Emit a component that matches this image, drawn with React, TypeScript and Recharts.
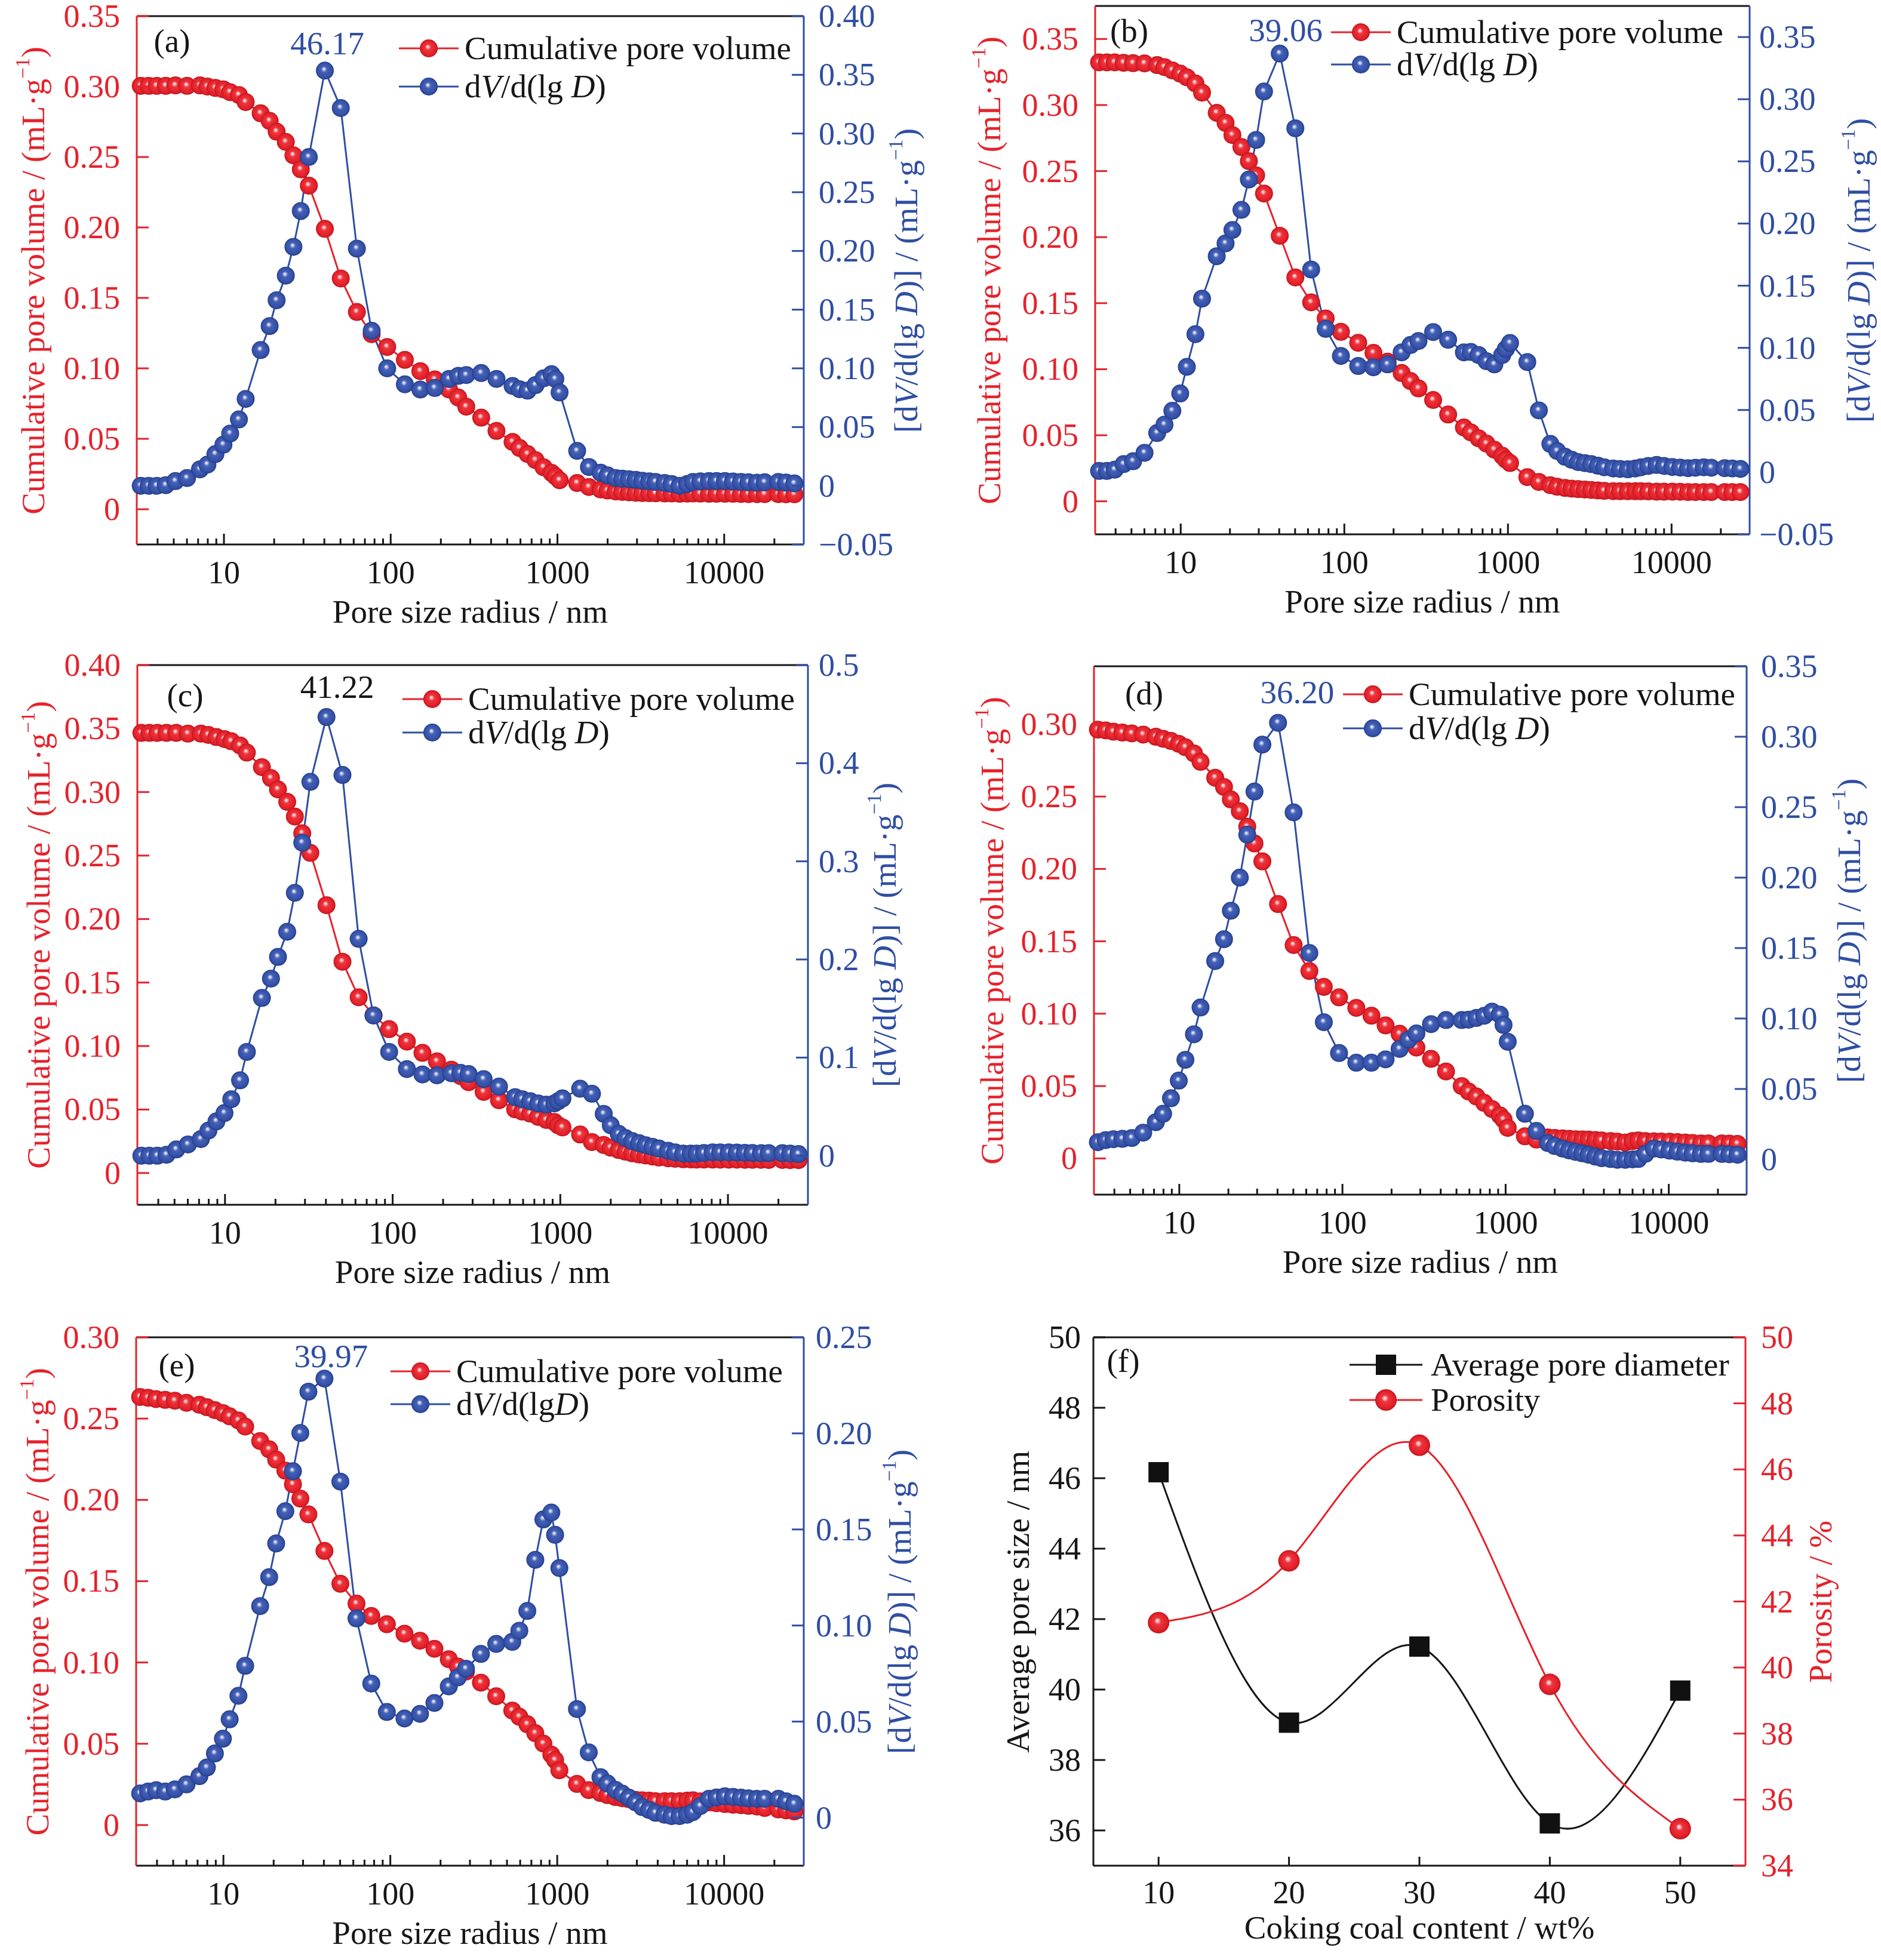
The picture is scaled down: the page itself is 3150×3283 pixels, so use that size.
import React from "react";
import { ComposedChart, Line, XAxis, YAxis, ReferenceLine, ReferenceDot, Legend } from "recharts";

const FONT = "'Liberation Serif', 'Times New Roman', serif";
const RED = "#e5222b";
const BLUE = "#2f4ea3";
const INK = "#161616";

// pore radius (nm), shared by panels (a)-(e)
const radius = [3.17, 3.54, 3.95, 4.48, 5.12, 6.01, 7.18, 7.96, 8.89, 9.93, 10.9, 12.3, 13.5, 16.6, 18.8, 20.7, 23.5, 26.1, 28.9, 32.3, 40.3, 50.2, 62.7, 76.9, 95.3, 121.6, 150.6, 183.8, 224, 254, 284, 349, 431, 538, 593, 662, 739, 826, 922, 971, 1030, 1313, 1545,
  1816, 2000, 2233, 2450, 2686, 2950, 3228, 3550, 3880, 4400, 4842, 5410, 6000, 6503, 7200, 8110, 9000, 10110, 11300, 12620, 14000, 15740, 17500, 21130, 23500, 26360];

const cumA = [0.3005, 0.3005, 0.3005, 0.3005, 0.3008, 0.3005, 0.3008, 0.3, 0.299, 0.298, 0.296, 0.294, 0.289, 0.281, 0.2756, 0.268, 0.2607, 0.2512, 0.2412, 0.2297, 0.199, 0.1638, 0.14, 0.1243, 0.1152, 0.106, 0.098, 0.0922, 0.085, 0.0793, 0.0728, 0.065, 0.0556, 0.0478, 0.0435, 0.0392, 0.0349, 0.0298, 0.0258, 0.0235, 0.0206, 0.0186, 0.0158,
  0.014, 0.0133, 0.0126, 0.0123, 0.012, 0.0117, 0.0115, 0.0114, 0.0113, 0.0112, 0.0112, 0.011, 0.0111, 0.0112, 0.0111, 0.011, 0.011, 0.011, 0.011, 0.0108, 0.0107, 0.0107, 0.0107, 0.0107, 0.0106, 0.0106];
const dvA = [0, 0, 0, 0.0005, 0.004, 0.0066, 0.014, 0.018, 0.027, 0.035, 0.0445, 0.0565, 0.074, 0.1156, 0.136, 0.158, 0.179, 0.2035, 0.234, 0.28, 0.3536, 0.3217, 0.202, 0.132, 0.1, 0.0864, 0.082, 0.0833, 0.091, 0.0936, 0.0943, 0.096, 0.091, 0.085, 0.0822, 0.081, 0.0857, 0.0915, 0.095, 0.091, 0.0795, 0.0297, 0.016,
  0.0111, 0.0088, 0.0066, 0.006, 0.0056, 0.005, 0.0043, 0.0038, 0.0033, 0.0024, 0.0015, 0, 0.0015, 0.0033, 0.0038, 0.004, 0.004, 0.004, 0.0036, 0.0033, 0.003, 0.0026, 0.003, 0.0033, 0.0028, 0.002];

const cumB = [0.3323, 0.3323, 0.3323, 0.332, 0.3317, 0.3315, 0.3302, 0.3287, 0.3262, 0.3238, 0.321, 0.3164, 0.3094, 0.2941, 0.2865, 0.2773, 0.2682, 0.2575, 0.2468, 0.233, 0.201, 0.1695, 0.1506, 0.1384, 0.1283, 0.12, 0.1124, 0.1057, 0.0971, 0.091, 0.0855, 0.0767, 0.0657, 0.0559, 0.0522, 0.0477, 0.0437, 0.0391, 0.0345, 0.0315, 0.029, 0.0183, 0.0147,
  0.0122, 0.011, 0.0101, 0.0096, 0.0092, 0.0089, 0.0086, 0.0082, 0.0079, 0.0077, 0.0076, 0.0076, 0.0076, 0.0076, 0.0075, 0.0073, 0.0073, 0.0073, 0.0072, 0.007, 0.007, 0.007, 0.007, 0.007, 0.007, 0.007];
const dvB = [0.001, 0.001, 0.002, 0.0065, 0.0088, 0.0156, 0.0315, 0.0383, 0.0494, 0.0633, 0.0847, 0.111, 0.1396, 0.1737, 0.184, 0.1948, 0.211, 0.2354, 0.2672, 0.3062, 0.3367, 0.2766, 0.163, 0.1153, 0.0935, 0.0854, 0.0844, 0.0867, 0.0964, 0.1023, 0.1055, 0.1127, 0.1065, 0.0964, 0.0967, 0.0942, 0.0893, 0.0867, 0.0942, 0.099, 0.1039, 0.0886, 0.0497,
  0.0227, 0.017, 0.0124, 0.01, 0.0081, 0.0073, 0.0065, 0.0052, 0.0039, 0.003, 0.0026, 0.0023, 0.003, 0.0039, 0.005, 0.0058, 0.005, 0.0042, 0.0037, 0.0032, 0.0036, 0.0039, 0.0036, 0.0032, 0.003, 0.0026];

const cumC = [0.3466, 0.3466, 0.3466, 0.3466, 0.3466, 0.346, 0.346, 0.345, 0.3433, 0.3417, 0.34, 0.3367, 0.3311, 0.3196, 0.311, 0.3021, 0.2923, 0.2807, 0.2675, 0.2521, 0.2109, 0.1664, 0.1384, 0.1242, 0.1133, 0.1035, 0.0946, 0.088, 0.0814, 0.0764, 0.0715, 0.0639, 0.0573, 0.0501, 0.0484, 0.0468, 0.0442, 0.0418, 0.0402, 0.0376, 0.0359, 0.0303, 0.0244,
  0.0221, 0.02, 0.0181, 0.0168, 0.0155, 0.0146, 0.0138, 0.013, 0.0122, 0.0116, 0.0112, 0.0108, 0.0107, 0.0106, 0.0106, 0.0106, 0.0105, 0.0105, 0.0105, 0.0104, 0.0104, 0.0104, 0.0103, 0.0103, 0.0102, 0.0102];
const dvC = [0, 0, 0, 0.001, 0.0064, 0.0115, 0.017, 0.0256, 0.035, 0.0435, 0.0576, 0.0768, 0.1058, 0.1608, 0.1805, 0.2026, 0.2282, 0.2679, 0.319, 0.381, 0.447, 0.388, 0.221, 0.1429, 0.1058, 0.0883, 0.0828, 0.0819, 0.084, 0.0845, 0.0832, 0.0781, 0.0704, 0.0597, 0.0576, 0.0555, 0.0533, 0.052, 0.0533, 0.0555, 0.0584, 0.0683, 0.0631,
  0.0427, 0.031, 0.0222, 0.018, 0.0149, 0.0128, 0.0107, 0.009, 0.0073, 0.005, 0.0034, 0.0021, 0.0021, 0.0021, 0.0028, 0.0034, 0.0034, 0.0034, 0.0032, 0.003, 0.0028, 0.0026, 0.0026, 0.0026, 0.0022, 0.0017];

const cumD = [0.2962, 0.2957, 0.2948, 0.2942, 0.2936, 0.2928, 0.2913, 0.2899, 0.2884, 0.2864, 0.2841, 0.2798, 0.274, 0.263, 0.2566, 0.248, 0.2399, 0.2292, 0.2176, 0.2052, 0.1757, 0.1474, 0.1295, 0.1185, 0.1113, 0.104, 0.0986, 0.0919, 0.0861, 0.081, 0.0766, 0.0688, 0.0601, 0.05, 0.0462, 0.0428, 0.0384, 0.0341, 0.0298, 0.0269, 0.0211, 0.0153, 0.013,
  0.0145, 0.0142, 0.0139, 0.0136, 0.0133, 0.0131, 0.013, 0.0127, 0.0124, 0.012, 0.0116, 0.011, 0.012, 0.0124, 0.012, 0.0118, 0.0117, 0.0116, 0.0113, 0.011, 0.0107, 0.0104, 0.0104, 0.0104, 0.0103, 0.0101];
const dvD = [0.0122, 0.0137, 0.0143, 0.0146, 0.0152, 0.019, 0.0264, 0.0324, 0.0434, 0.0559, 0.0707, 0.0888, 0.1078, 0.1408, 0.1563, 0.1765, 0.2, 0.2305, 0.2611, 0.2944, 0.3099, 0.2463, 0.1465, 0.0974, 0.0755, 0.0686, 0.0686, 0.071, 0.0784, 0.085, 0.0894, 0.096, 0.0989, 0.0989, 0.0992, 0.1004, 0.1019, 0.1049, 0.1028, 0.0954, 0.0835, 0.0324, 0.0202,
  0.0116, 0.0095, 0.0077, 0.0064, 0.0053, 0.0043, 0.0033, 0.002, 0.0009, 0.0003, -0.0003, -0.0003, 0, 0.0003, 0.004, 0.0077, 0.007, 0.0062, 0.0055, 0.0048, 0.0043, 0.0039, 0.0039, 0.0039, 0.0036, 0.0033];

const cumE = [0.2633, 0.2628, 0.262, 0.2615, 0.261, 0.2597, 0.2585, 0.257, 0.2552, 0.2534, 0.2514, 0.2489, 0.2451, 0.2362, 0.2311, 0.2248, 0.218, 0.2096, 0.2008, 0.1911, 0.1686, 0.1484, 0.1362, 0.1286, 0.1235, 0.1177, 0.1134, 0.1084, 0.102, 0.0975, 0.0944, 0.0876, 0.0792, 0.0704, 0.0666, 0.062, 0.0565, 0.0501, 0.0433, 0.04, 0.0337, 0.0253, 0.0215,
  0.0197, 0.0184, 0.0172, 0.0165, 0.0159, 0.0155, 0.0152, 0.015, 0.0147, 0.0147, 0.0147, 0.0147, 0.015, 0.0152, 0.0146, 0.0139, 0.0134, 0.0129, 0.0125, 0.0122, 0.0118, 0.0114, 0.0105, 0.0096, 0.009, 0.0084];
const dvE = [0.0126, 0.0136, 0.0143, 0.0136, 0.0147, 0.0173, 0.0216, 0.0261, 0.0334, 0.0411, 0.0512, 0.0634, 0.079, 0.1101, 0.1252, 0.1427, 0.1595, 0.1803, 0.2002, 0.2217, 0.2285, 0.1749, 0.1037, 0.0698, 0.055, 0.0516, 0.054, 0.0597, 0.0683, 0.073, 0.0775, 0.0852, 0.0904, 0.0915, 0.0973, 0.1076, 0.1342, 0.1552, 0.1588, 0.1472, 0.1299, 0.0565, 0.034,
  0.0211, 0.0178, 0.0145, 0.0125, 0.0104, 0.008, 0.0055, 0.004, 0.0025, 0.0015, 0.0008, 0.0008, 0.0015, 0.0029, 0.006, 0.0098, 0.0105, 0.0111, 0.0108, 0.0104, 0.01, 0.0098, 0.0098, 0.0098, 0.0085, 0.0072];

// panel (f)
const coking = [10, 20, 30, 40, 50];
const avgPore = [46.17, 39.06, 41.22, 36.2, 39.97];
const porosity = [41.36, 43.23, 46.73, 39.49, 35.12];

const logTicks = [4, 5, 6, 7, 8, 9, 10, 20, 30, 40, 50, 60, 70, 80, 90, 100, 200, 300, 400, 500, 600, 700, 800, 900, 1000, 2000, 3000, 4000, 5000, 6000, 7000, 8000, 9000, 10000, 20000];
const majorLog = [10, 100, 1000, 10000];

const fmt2 = (v: number) => (v === 0 ? "0" : (v < 0 ? "\u2212" : "") + Math.abs(v).toFixed(2));
const fmt1 = (v: number) => (v === 0 ? "0" : (v < 0 ? "\u2212" : "") + Math.abs(v).toFixed(1));
const fmt0 = (v: number) => String(v);

function LogTick(props: any) {
  const { x, y, payload } = props;
  const v = payload.value;
  const major = majorLog.indexOf(v) >= 0;
  return (
    <g>
      <line x1={x} x2={x} y1={y} y2={y - (major ? 18 : 10)} stroke={INK} strokeWidth={3} />
      {major ? (
        <text x={x} y={y + 65} textAnchor="middle" fontSize={54} fontFamily={FONT} fill={INK}>
          {v}
        </text>
      ) : null}
    </g>
  );
}

const linTick = (len: number) => (props: any) => {
  const { x, y, payload } = props;
  return (
    <g>
      <line x1={x} x2={x} y1={y} y2={y - len} stroke={INK} strokeWidth={3} />
      <text x={x} y={y + 63} textAnchor="middle" fontSize={54} fontFamily={FONT} fill={INK}>
        {payload.value}
      </text>
    </g>
  );
};

const yTick = (side: string, color: string, fmt: (v: number) => string, gap: number) => (props: any) => {
  const { x, y, payload } = props;
  const dir = side === "left" ? 1 : -1;
  return (
    <g>
      <line x1={x} x2={x + dir * 20} y1={y} y2={y} stroke={color} strokeWidth={3} />
      <text x={x - dir * gap} y={y + 18} textAnchor={side === "left" ? "end" : "start"} fontSize={54} fontFamily={FONT} fill={color}>
        {fmt(payload.value)}
      </text>
    </g>
  );
};

const ball = (grad: string, r: number) => (props: any) => {
  const { cx, cy, index } = props;
  if (cx == null || cy == null) return <g key={"n" + index} />;
  return <circle key={"b" + index} cx={cx} cy={cy} r={r} fill={`url(#${grad})`} />;
};

const square = (props: any) => {
  const { cx, cy, index } = props;
  if (cx == null || cy == null) return <g key={"n" + index} />;
  return <rect key={"s" + index} x={cx - 17} y={cy - 17} width={34} height={34} fill="#111" />;
};

function Txt({ x, y, color = INK, rot = false, size = 55, children }: any) {
  return (
    <div
      style={{
        position: "absolute",
        left: x,
        top: y,
        transform: `translate(-50%, -50%)${rot ? " rotate(-90deg)" : ""}`,
        color,
        fontSize: size,
        lineHeight: 1,
        whiteSpace: "nowrap",
        fontFamily: FONT,
      }}
    >
      {children}
    </div>
  );
}

const Sup = ({ children }: any) => <span style={{ fontSize: "0.6em", position: "relative", top: "-0.75em" }}>{children}</span>;

const ballIcon = (color: string, grad: string, w: number, r: number) => (
  <>
    <line x1={0} x2={w} y1={22} y2={22} stroke={color} strokeWidth={3} />
    <circle cx={w / 2} cy={22} r={r} fill={`url(#${grad})`} />
  </>
);

const legendRows = (rows: any[], gap: number) => () => (
  <div style={{ fontFamily: FONT, fontSize: 55, color: INK }}>
    {rows.map((row, i) => (
      <div key={i} style={{ display: "flex", alignItems: "center", height: gap, whiteSpace: "nowrap" }}>
        <svg width={row.w} height={44} style={{ flex: "none" }}>
          {row.icon}
        </svg>
        <span style={{ marginLeft: row.pad, lineHeight: 0.9 }}>{row.label}</span>
      </div>
    ))}
  </div>
);

const peakLabel = (text: string, color: string, dx: number, dy: number) => (props: any) => {
  const vb = props.viewBox || {};
  const cx = (vb.x || 0) + (vb.width || 0) / 2;
  const cy = (vb.y || 0) + (vb.height || 0) / 2;
  return (
    <text x={cx + dx} y={cy + dy + 18} textAnchor="middle" fontSize={55} fontFamily={FONT} fill={color}>
      {text}
    </text>
  );
};

const PAD_L = 200;
const PAD_R = 200;
const PAD_T = 60;
const PAD_B = 110;

function PorePanel(p: any) {
  const [L, T, R, B] = p.box;
  const W = R - L + PAD_L + PAD_R;
  const H = B - T + PAD_T + PAD_B;
  const data = radius.map((r, i) => ({ r, cum: p.cum[i], dv: p.dv[i] }));
  const pk = p.dv.indexOf(Math.max(...p.dv));
  const gap = p.legY[1] - p.legY[0];
  const rows = [
    { w: 100, pad: 10, icon: ballIcon(RED, "gRed", 100, 15), label: "Cumulative pore volume" },
    { w: 100, pad: 10, icon: ballIcon(BLUE, "gBlue", 100, 15), label: p.dvName },
  ];
  const cy = (T + B) / 2;
  return (
    <>
      <div style={{ position: "absolute", left: L - PAD_L, top: T - PAD_T }}>
        <ComposedChart width={W} height={H} data={data} margin={{ top: PAD_T, right: 0, bottom: 0, left: 0 }}>
          <XAxis dataKey="r" type="number" scale="log" domain={[3, 30000]} ticks={logTicks} interval={0} height={PAD_B} tickSize={0} tickMargin={0} tickLine={false} tick={LogTick} axisLine={{ stroke: INK, strokeWidth: 3 }} />
          <YAxis yAxisId="L" type="number" domain={p.lDom} ticks={p.lTicks} interval={0} width={PAD_L} tickSize={0} tickMargin={0} tickLine={false} tick={yTick("left", RED, fmt2, 28)} axisLine={{ stroke: RED, strokeWidth: 3 }} />
          <YAxis yAxisId="R" orientation="right" type="number" domain={p.rDom} ticks={p.rTicks} interval={0} width={PAD_R} tickSize={0} tickMargin={0} tickLine={false} tick={yTick("right", BLUE, p.rFmt, p.rGap)} axisLine={{ stroke: BLUE, strokeWidth: 3 }} />
          <ReferenceLine yAxisId="L" y={p.lDom[1]} stroke={INK} strokeWidth={3} />
          <Line yAxisId="L" dataKey="cum" type="linear" stroke={RED} strokeWidth={3} dot={ball("gRed", 15)} activeDot={false} isAnimationActive={false} />
          <Line yAxisId="R" dataKey="dv" type="linear" stroke={BLUE} strokeWidth={3} dot={ball("gBlue", 15)} activeDot={false} isAnimationActive={false} />
          <ReferenceDot yAxisId="R" x={radius[pk]} y={p.dv[pk]} r={15} fill="none" stroke="none" label={peakLabel(p.peak, p.peakColor, p.peakDx, p.peakDy)} />
          <Legend
            layout="vertical"
            align="center"
            verticalAlign="middle"
            content={legendRows(rows, gap)}
            wrapperStyle={{ left: p.legX - (L - PAD_L), top: p.legY[0] - gap / 2 - (T - PAD_T), width: 900 }}
          />
        </ComposedChart>
      </div>
      <Txt x={p.tag[0]} y={p.tag[1]}>{p.tagText}</Txt>
      <Txt x={p.lTitleX} y={cy} color={RED} rot>
        Cumulative pore volume / (mL·g<Sup>−1</Sup>)
      </Txt>
      <Txt x={p.rTitleX} y={cy} color={BLUE} rot>
        [d<i>V</i>/d(lg <i>D</i>)] / (mL·g<Sup>−1</Sup>)
      </Txt>
      <Txt x={(L + R) / 2} y={B + 112}>Pore size radius / nm</Txt>
    </>
  );
}

function AvgPanel() {
  const [L, T, R, B] = [1831, 2240, 2923, 3125];
  const W = R - L + PAD_L + PAD_R;
  const H = B - T + PAD_T + PAD_B;
  const data = coking.map((c, i) => ({ c, avg: avgPore[i], por: porosity[i] }));
  const legY = [2286, 2345];
  const gap = legY[1] - legY[0];
  const legX = 2260;
  const rows = [
    {
      w: 122,
      pad: 14,
      icon: (
        <>
          <line x1={0} x2={122} y1={22} y2={22} stroke={INK} strokeWidth={3} />
          <rect x={44} y={5} width={34} height={34} fill="#111" />
        </>
      ),
      label: "Average pore diameter",
    },
    { w: 122, pad: 14, icon: ballIcon(RED, "gRed", 122, 18), label: "Porosity" },
  ];
  return (
    <>
      <div style={{ position: "absolute", left: L - PAD_L, top: T - PAD_T }}>
        <ComposedChart width={W} height={H} data={data} margin={{ top: PAD_T, right: 0, bottom: 0, left: 0 }}>
          <XAxis dataKey="c" type="number" domain={[5, 55]} ticks={coking} interval={0} height={PAD_B} tickSize={0} tickMargin={0} tickLine={false} tick={linTick(15)} axisLine={{ stroke: INK, strokeWidth: 3 }} />
          <YAxis yAxisId="L" type="number" domain={[35, 50]} ticks={[36, 38, 40, 42, 44, 46, 48, 50]} interval={0} width={PAD_L} tickSize={0} tickMargin={0} tickLine={false} tick={yTick("left", INK, fmt0, 21)} axisLine={{ stroke: INK, strokeWidth: 3 }} />
          <YAxis yAxisId="R" orientation="right" type="number" domain={[34, 50]} ticks={[34, 36, 38, 40, 42, 44, 46, 48, 50]} interval={0} width={PAD_R} tickSize={0} tickMargin={0} tickLine={false} tick={yTick("right", RED, fmt0, 26)} axisLine={{ stroke: RED, strokeWidth: 3 }} />
          <ReferenceLine yAxisId="L" y={50} stroke={INK} strokeWidth={3} />
          <Line yAxisId="L" dataKey="avg" type="natural" stroke={INK} strokeWidth={3} dot={square} activeDot={false} isAnimationActive={false} />
          <Line yAxisId="R" dataKey="por" type="natural" stroke={RED} strokeWidth={3} dot={ball("gRed", 18)} activeDot={false} isAnimationActive={false} />
          <Legend
            layout="vertical"
            align="center"
            verticalAlign="middle"
            content={legendRows(rows, gap)}
            wrapperStyle={{ left: legX - (L - PAD_L), top: legY[0] - gap / 2 - (T - PAD_T), width: 900 }}
          />
        </ComposedChart>
      </div>
      <Txt x={1881} y={2279}>(f)</Txt>
      <Txt x={1704} y={(T + B) / 2} rot>Average pore size / nm</Txt>
      <Txt x={3048} y={(T + B) / 2} color={RED} rot>Porosity / %</Txt>
      <Txt x={(L + R) / 2} y={B + 103}>Coking coal content / wt%</Txt>
    </>
  );
}

const dvSpaced = (
  <>
    d<i>V</i>/d(lg <i>D</i>)
  </>
);
const dvTight = (
  <>
    d<i>V</i>/d(lg<i>D</i>)
  </>
);

export default function App() {
  return (
    <div style={{ position: "absolute", left: 0, top: 0, width: 3150, height: 3283, background: "#fff", fontFamily: FONT, overflow: "hidden" }}>
      <svg width={0} height={0} style={{ position: "absolute" }}>
        <defs>
          <radialGradient id="gRed" cx="50%" cy="50%" r="50%" fx="44%" fy="40%">
            <stop offset="0%" stopColor="#ffffff" />
            <stop offset="13%" stopColor="#f7b3b7" />
            <stop offset="32%" stopColor="#ee343c" />
            <stop offset="82%" stopColor="#e11f28" />
            <stop offset="100%" stopColor="#bd141d" />
          </radialGradient>
          <radialGradient id="gBlue" cx="50%" cy="50%" r="50%" fx="44%" fy="40%">
            <stop offset="0%" stopColor="#ffffff" />
            <stop offset="13%" stopColor="#b9c3ea" />
            <stop offset="32%" stopColor="#4561b6" />
            <stop offset="82%" stopColor="#3350a6" />
            <stop offset="100%" stopColor="#233c88" />
          </radialGradient>
        </defs>
      </svg>

      <PorePanel
        box={[229, 27, 1346, 912]}
        cum={cumA}
        dv={dvA}
        lDom={[-0.025, 0.35]}
        lTicks={[0, 0.05, 0.1, 0.15, 0.2, 0.25, 0.3, 0.35]}
        rDom={[-0.05, 0.4]}
        rTicks={[-0.05, 0, 0.05, 0.1, 0.15, 0.2, 0.25, 0.3, 0.35, 0.4]}
        rFmt={fmt2}
        rGap={25}
        peak="46.17"
        peakColor={BLUE}
        peakDx={4}
        peakDy={-45}
        legX={668}
        legY={[81, 145]}
        dvName={dvSpaced}
        tag={[288, 68]}
        tagText="(a)"
        lTitleX={55}
        rTitleX={1517}
      />
      <PorePanel
        box={[1834, 10, 2930, 895]}
        cum={cumB}
        dv={dvB}
        lDom={[-0.025, 0.375]}
        lTicks={[0, 0.05, 0.1, 0.15, 0.2, 0.25, 0.3, 0.35]}
        rDom={[-0.05, 0.375]}
        rTicks={[-0.05, 0, 0.05, 0.1, 0.15, 0.2, 0.25, 0.3, 0.35]}
        rFmt={fmt2}
        rGap={16}
        peak="39.06"
        peakColor={BLUE}
        peakDx={10}
        peakDy={-39}
        legX={2229}
        legY={[54, 108]}
        dvName={dvSpaced}
        tag={[1891, 51]}
        tagText="(b)"
        lTitleX={1656}
        rTitleX={3112}
      />
      <PorePanel
        box={[230, 1114, 1353, 2018]}
        cum={cumC}
        dv={dvC}
        lDom={[-0.025, 0.4]}
        lTicks={[0, 0.05, 0.1, 0.15, 0.2, 0.25, 0.3, 0.35, 0.4]}
        rDom={[-0.05, 0.5]}
        rTicks={[0, 0.1, 0.2, 0.3, 0.4, 0.5]}
        rFmt={fmt1}
        rGap={18}
        peak="41.22"
        peakColor={INK}
        peakDx={18}
        peakDy={-50}
        legX={674}
        legY={[1171, 1227]}
        dvName={dvSpaced}
        tag={[310, 1164]}
        tagText="(c)"
        lTitleX={64}
        rTitleX={1481}
      />
      <PorePanel
        box={[1832, 1116, 2925, 2001]}
        cum={cumD}
        dv={dvD}
        lDom={[-0.025, 0.34]}
        lTicks={[0, 0.05, 0.1, 0.15, 0.2, 0.25, 0.3]}
        rDom={[-0.025, 0.35]}
        rTicks={[0, 0.05, 0.1, 0.15, 0.2, 0.25, 0.3, 0.35]}
        rFmt={fmt2}
        rGap={24}
        peak="36.20"
        peakColor={BLUE}
        peakDx={32}
        peakDy={-51}
        legX={2249}
        legY={[1163, 1220]}
        dvName={dvSpaced}
        tag={[1916, 1161]}
        tagText="(d)"
        lTitleX={1661}
        rTitleX={3096}
      />
      <PorePanel
        box={[228, 2240, 1346, 3125]}
        cum={cumE}
        dv={dvE}
        lDom={[-0.025, 0.3]}
        lTicks={[0, 0.05, 0.1, 0.15, 0.2, 0.25, 0.3]}
        rDom={[-0.025, 0.25]}
        rTicks={[0, 0.05, 0.1, 0.15, 0.2, 0.25]}
        rFmt={fmt2}
        rGap={20}
        peak="39.97"
        peakColor={BLUE}
        peakDx={11}
        peakDy={-37}
        legX={654}
        legY={[2297, 2352]}
        dvName={dvTight}
        tag={[296, 2286]}
        tagText="(e)"
        lTitleX={62}
        rTitleX={1506}
      />
      <AvgPanel />
    </div>
  );
}
